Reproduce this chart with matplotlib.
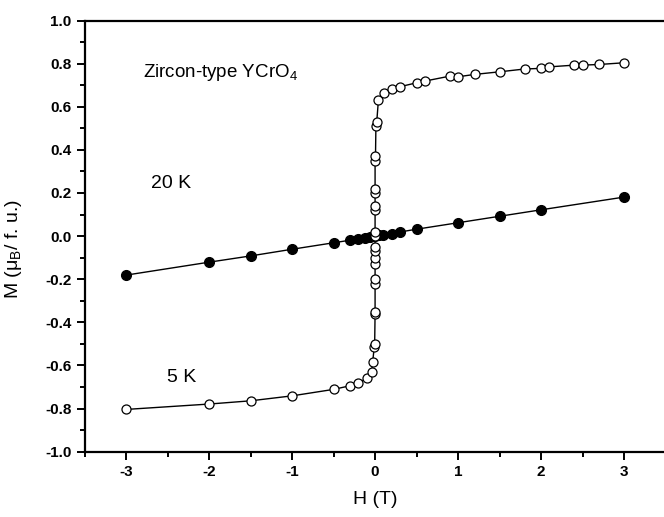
import matplotlib
matplotlib.use('Agg')
import matplotlib.pyplot as plt
from matplotlib.ticker import MultipleLocator, FormatStrFormatter

plt.rcParams['font.family'] = ['Liberation Sans', 'DejaVu Sans']
plt.rcParams['mathtext.fontset'] = 'custom'
plt.rcParams['mathtext.rm'] = 'Liberation Sans'
plt.rcParams['mathtext.default'] = 'regular'
plt.rcParams['axes.unicode_minus'] = False

# 5 K loop (open circles)
h_5k = [-3.0, -2.0, -1.5, -1.0, -0.5, -0.3, -0.2, -0.1, -0.04, -0.03, -0.01,
        -0.005, 0.0, 0.0, 0.0, 0.0, 0.0, 0.0, 0.0, 0.0,
        0.0, 0.0, 0.0, 0.0, 0.0, 0.0, 0.0, 0.005, 0.01, 0.02, 0.04,
        0.11, 0.2, 0.3, 0.5, 0.6, 0.9, 1.0, 1.2, 1.5, 1.8, 2.0, 2.1, 2.4, 2.5, 2.7, 3.0]
m_5k = [-0.804, -0.779, -0.764, -0.741, -0.711, -0.694, -0.680, -0.660, -0.630, -0.586, -0.516,
        -0.50, -0.36, -0.35, -0.22, -0.20, -0.13, -0.10, -0.07, -0.05,
        0.0, 0.02, 0.12, 0.14, 0.20, 0.22, 0.35, 0.37, 0.51, 0.53, 0.63,
        0.665, 0.682, 0.693, 0.711, 0.719, 0.742, 0.739, 0.750, 0.762, 0.775, 0.778, 0.785, 0.793, 0.793, 0.796, 0.804]

# 20 K (filled circles)
h_20k = [-3.0, -2.0, -1.5, -1.0, -0.5, -0.3, -0.2, -0.12, -0.06, 0.0, 0.05, 0.1, 0.2, 0.3, 0.5, 1.0, 1.5, 2.0, 3.0]
m_20k = [-0.181, -0.121, -0.092, -0.061, -0.031, -0.019, -0.012, -0.007, -0.004, 0.0, 0.003, 0.006,
         0.012, 0.019, 0.032, 0.062, 0.092, 0.122, 0.181]

y_ticks = [-1.0, -0.8, -0.6, -0.4, -0.2, 0.0, 0.2, 0.4, 0.6, 0.8, 1.0]
x_ticks = [-3, -2, -1, 0, 1, 2, 3]

fig = plt.figure(figsize=(6.64, 5.17), dpi=100)
ax = fig.add_axes([84.5 / 664, 65.3 / 517, (664 - 84.5) / 664, 431.2 / 517])
ax.set_xlim(-3.5, 3.48)
ax.set_ylim(-1.0, 1.0)

ax.plot(h_20k, m_20k, '-', color='black', lw=1.0, marker='o', mfc='black', mec='black',
        ms=7.0, zorder=3)
ax.plot(h_5k, m_5k, '-', color='black', lw=1.0, marker='o', mfc='white', mec='black',
        ms=6.5, mew=0.9, zorder=4)

ax.set_xticks(x_ticks)
ax.set_yticks(y_ticks)
ax.xaxis.set_minor_locator(MultipleLocator(0.5))
ax.yaxis.set_minor_locator(MultipleLocator(0.1))
ax.yaxis.set_major_formatter(FormatStrFormatter('%.1f'))
ax.tick_params(which='major', direction='out', length=6, width=1.4, labelsize=11, pad=3.5)
ax.tick_params(which='minor', direction='out', length=3.3, width=1.4)
ax.tick_params(top=False, right=False, which='both')
for lab in ax.get_xticklabels() + ax.get_yticklabels():
    lab.set_fontweight('bold')

for s in ['left', 'bottom', 'top']:
    ax.spines[s].set_linewidth(1.6)
ax.spines['right'].set_visible(False)

ax.set_xlabel('H (T)', fontsize=14)
ax.xaxis.label.set_va('center')
ax.xaxis.set_label_coords(0.501, -0.112)
ax.set_ylabel('M (μ$_B$/ f. u.)', fontsize=14)
ax.yaxis.label.set_va('center')
ax.yaxis.label.set_ha('center')
ax.yaxis.set_label_coords(-0.122, 0.47)

ax.text(-2.80, 0.76, 'Zircon-type YCrO$_4$', fontsize=13.5, va='center', ha='left')
ax.text(-2.70, 0.245, '20 K', fontsize=14, va='center', ha='left')
ax.text(-2.51, -0.655, '5 K', fontsize=14, va='center', ha='left')

fig.savefig('out.png', dpi=100)
